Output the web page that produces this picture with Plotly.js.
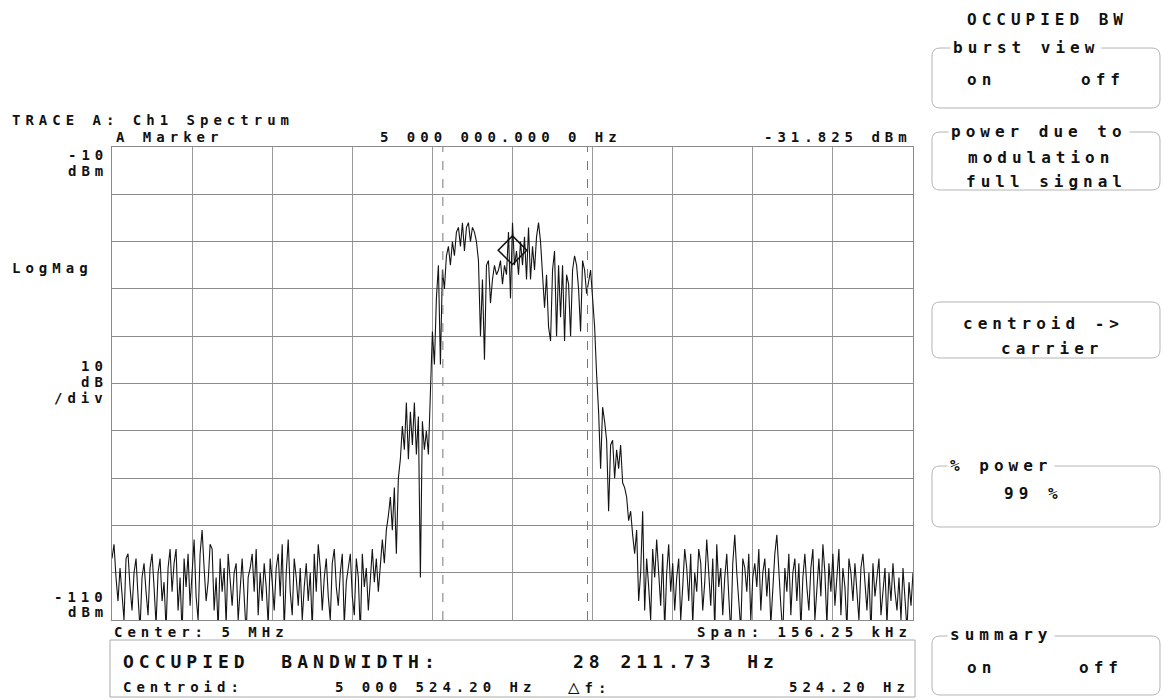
<!DOCTYPE html>
<html>
<head>
<meta charset="utf-8">
<script src="https://cdn.plot.ly/plotly-3.0.1.min.js"></script>
<style>
  html,body{margin:0;padding:0;background:#fff;}
  #chart{width:1164px;height:700px;}
  .annotation-text{letter-spacing:5px;}
</style>
</head>
<body>
<div id="chart"></div>
<script>
const centerHz = 5000000;
const spanHz = 156250;
const refLevel = -10;      // top of screen, dBm
const bottomLevel = -110;  // bottom of screen, dBm
const markerFreqHz = [5000000];
const markerLevel = [-31.825];
const obwEdgesHz = [4986418.3, 5014630.1];

// left noise floor (points 0..133)
const noiseLeft = [
 -97,-94,-101,-106,-99,-104,-110,-97,-96,-103,
 -108,-100,-97,-105,-112,-101,-98,-104,-109,-99,
 -96,-103,-111,-100,-97,-106,-102,-112,-99,-95,
 -104,-98,-95,-108,-101,-113,-97,-103,-96,-107,
 -100,-93,-105,-110,-96,-91,-99,-106,-102,-94,
 -95,-108,-101,-112,-97,-104,-99,-111,-96,-102,
 -107,-100,-98,-110,-103,-97,-105,-113,-101,-99,
 -96,-104,-95,-109,-100,-106,-98,-103,-111,-97,
 -102,-108,-99,-96,-105,-94,-112,-100,-93,-104,
 -109,-97,-101,-107,-99,-110,-103,-98,-106,-100,
 -112,-96,-104,-94,-99,-108,-101,-97,-105,-110,
 -98,-95,-103,-107,-100,-96,-111,-102,-99,-96,
 -105,-109,-97,-101,-113,-96,-103,-99,-108,-100,
 -95,-102,-97,-104
];
// modulated band with skirts (points 134..261)
const signalBand = [
 -99,-93,-98,-91,-88,-84,-91,-82,-96,-80,
 -76,-69,-74,-64,-76,-66,-73,-64,-75,-67,
 -101,-68,-74,-70,-75,-59,-49,-56,-42,-35,
 -56,-36,-40,-33,-31,-35,-30,-33,-28,-27,
 -31,-26,-32,-27,-26,-30,-27,-28,-30,-34,
 -50,-38,-55,-35,-34,-43,-38,-35,-37,-36,
 -34,-39,-35,-37,-28,-42,-26,-35,-32,-37,
 -30,-35,-29,-38,-27,-38,-31,-36,-29,-26,
 -30,-37,-44,-37,-48,-51,-36,-32,-50,-35,
 -46,-35,-51,-37,-39,-50,-36,-33,-35,-40,
 -49,-34,-36,-41,-38,-36,-42,-48,-58,-66,
 -78,-65,-68,-72,-87,-73,-72,-80,-74,-78,
 -73,-81,-82,-84,-89,-87,-92,-96
];
// right noise floor (points 262..400)
const noiseRight = [
 -91,-106,-100,-87,-108,-97,-103,-110,-95,-101,
 -93,-99,-107,-96,-112,-100,-94,-104,-98,-108,
 -101,-97,-110,-103,-95,-99,-106,-96,-111,-100,
 -104,-95,-98,-108,-102,-93,-100,-107,-97,-112,
 -94,-103,-99,-109,-101,-96,-105,-113,-98,-92,
 -100,-106,-112,-97,-99,-104,-96,-110,-101,-98,
 -103,-95,-108,-100,-97,-105,-99,-111,-102,-96,
 -92,-101,-107,-113,-99,-104,-96,-109,-100,-97,
 -106,-98,-112,-101,-96,-103,-108,-99,-95,-110,
 -102,-97,-105,-94,-100,-111,-98,-104,-96,-107,
 -101,-95,-109,-99,-103,-112,-97,-100,-106,-98,
 -104,-110,-99,-96,-102,-108,-100,-113,-98,-105,
 -101,-97,-109,-103,-99,-111,-100,-106,-98,-104,
 -108,-101,-110,-99,-105,-112,-102,-107,-100
];

const traceDbm = noiseLeft.concat(signalBand, noiseRight);
const nPts = traceDbm.length;
const startHz = centerHz - spanHz/2;
const stopHz = centerHz + spanHz/2;
const freqHz = traceDbm.map((_, i) => startHz + i * spanHz / (nPts - 1));

// ---- layout helpers (screen geometry) ----
const PL = 112, PR = 913, PT = 147, PB = 620;
const PW = PR - PL, PH = PB - PT;
const fx = x => (x - PL) / PW;
const fy = y => (PB - y) / PH;
const FONT = 'DejaVu Sans Mono';

function ann(text, x, y, size, anchor, bg) {
  const a = {
    text: '<b>' + text + '</b>', xref: 'paper', yref: 'paper',
    x: fx(x), y: fy(y), xanchor: anchor || 'left', yanchor: 'middle',
    showarrow: false, font: {family: FONT, size: size, color: '#111'}
  };
  if (bg) { a.bgcolor = '#ffffff'; a.borderpad = 2; }
  return a;
}
function rrect(x0, y0, x1, y1, r) {
  const p = (x, y) => fx(x).toFixed(5) + ',' + fy(y).toFixed(5);
  const path = 'M' + p(x0 + r, y0) + ' L' + p(x1 - r, y0) + ' Q' + p(x1, y0) + ' ' + p(x1, y0 + r) +
    ' L' + p(x1, y1 - r) + ' Q' + p(x1, y1) + ' ' + p(x1 - r, y1) +
    ' L' + p(x0 + r, y1) + ' Q' + p(x0, y1) + ' ' + p(x0, y1 - r) +
    ' L' + p(x0, y0 + r) + ' Q' + p(x0, y0) + ' ' + p(x0 + r, y0) + ' Z';
  return {type: 'path', xref: 'paper', yref: 'paper', path: path,
          line: {color: '#b4b4b4', width: 1}, layer: 'below'};
}

const shapes = [
  // OBW edges
  ...obwEdgesHz.map(f => ({type: 'line', xref: 'x', yref: 'paper', x0: f, x1: f, y0: 0, y1: 1,
    line: {color: '#777', width: 1, dash: 'dash'}})),
  // bottom result box
  {type: 'rect', xref: 'paper', yref: 'paper', x0: fx(110), x1: fx(915), y0: fy(640), y1: fy(697),
    line: {color: '#aaa', width: 1}},
  // softkey boxes
  rrect(932, 48, 1160, 108, 8),
  rrect(932, 132, 1160, 190, 8),
  rrect(932, 302, 1160, 358, 8),
  rrect(932, 466, 1160, 527, 8),
  rrect(932, 636, 1160, 695, 8)
];

const annotations = [
  ann('TRACE A: Ch1 Spectrum', 10, 120, 14),
  ann('A Marker', 114, 137, 14),
  ann('5 000 000.000 0 Hz', 378, 137, 14),
  ann('-31.825 dBm', 914, 137, 14, 'right'),
  ann('-10', 110, 155, 14, 'right'),
  ann('dBm', 110, 171, 14, 'right'),
  ann('LogMag', 10, 268, 14),
  ann('10', 110, 366, 14, 'right'),
  ann('dB', 110, 382, 14, 'right'),
  ann('/div', 110, 398, 14, 'right'),
  ann('-110', 110, 597, 14, 'right'),
  ann('dBm', 110, 612, 14, 'right'),
  ann('Center: 5 MHz', 112, 632, 14),
  ann('Span: 156.25 kHz', 914, 632, 14, 'right'),
  ann('OCCUPIED  BANDWIDTH:', 121, 661, 18),
  ann('28 211.73  Hz', 571, 661, 18),
  ann('Centroid:', 121, 687, 14),
  ann('5 000 524.20 Hz', 333, 687, 14),
  ann('<span style="font-size:19px;font-weight:normal">△</span>f:', 566, 686, 14),
  ann('524.20 Hz', 912, 687, 14, 'right'),
  // softkeys
  ann('OCCUPIED BW', 965, 19, 16),
  ann('burst view', 950, 47, 16, 'left', true),
  ann('on', 965, 80, 16),
  ann('off', 1079, 80, 16),
  ann('power due to', 948, 131, 16, 'left', true),
  ann('modulation', 966, 157, 16),
  ann('full signal', 964, 182, 16),
  ann('centroid ->', 961, 323, 16),
  ann('carrier', 999, 348, 16),
  ann('% power', 947, 465, 16, 'left', true),
  ann('99 %', 1002, 493, 16),
  ann('summary', 947, 634, 16, 'left', true),
  ann('on', 965, 667, 16),
  ann('off', 1077, 667, 16)
];

const traces = [
  {x: freqHz, y: traceDbm, type: 'scatter', mode: 'lines',
   line: {color: '#141414', width: 1.1}, hoverinfo: 'skip'},
  {x: markerFreqHz, y: markerLevel, type: 'scatter', mode: 'markers',
   marker: {symbol: 'diamond-open', size: 22, color: '#111', line: {width: 1.5, color: '#111'}},
   hoverinfo: 'skip'}
];

const layout = {
  width: 1164, height: 700,
  margin: {l: PL, r: 1164 - PR, t: PT, b: 700 - PB, pad: 0},
  paper_bgcolor: '#fff', plot_bgcolor: '#fff',
  showlegend: false,
  font: {family: FONT, color: '#111'},
  xaxis: {range: [startHz, stopHz], tick0: startHz, dtick: spanHz / 10, showticklabels: false,
          ticks: '', showgrid: true, gridcolor: '#9a9a9a', gridwidth: 1, zeroline: false,
          showline: true, mirror: true, linecolor: '#8a8a8a', linewidth: 1, fixedrange: true},
  yaxis: {range: [bottomLevel, refLevel], tick0: bottomLevel, dtick: 10, showticklabels: false,
          ticks: '', showgrid: true, gridcolor: '#8c8c8c', gridwidth: 1, zeroline: false,
          showline: true, mirror: true, linecolor: '#8a8a8a', linewidth: 1, fixedrange: true},
  shapes: shapes,
  annotations: annotations
};

Plotly.newPlot('chart', traces, layout, {displayModeBar: false, staticPlot: true});
</script>
</body>
</html>
